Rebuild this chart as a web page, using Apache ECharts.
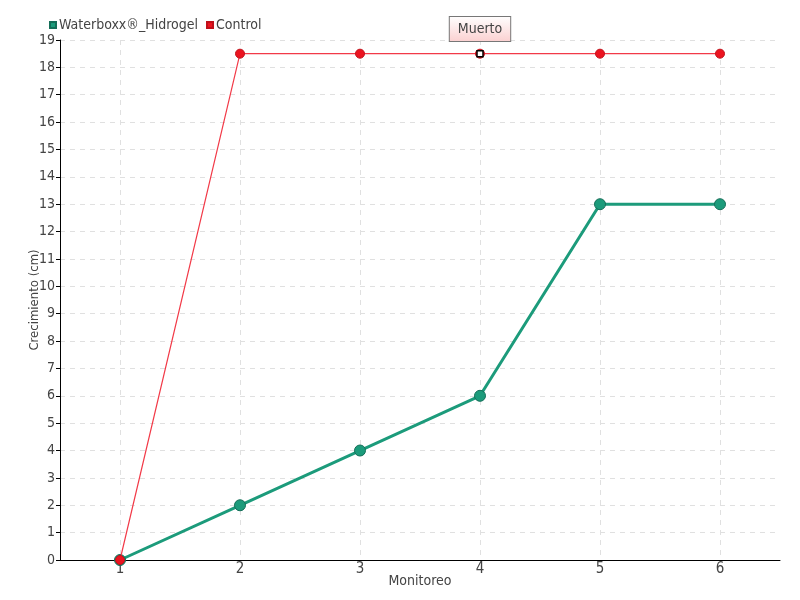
<!DOCTYPE html>
<html><head><meta charset="utf-8">
<script src="https://cdn.jsdelivr.net/npm/echarts@6/dist/echarts.min.js"></script>
<style>html,body{margin:0;padding:0;background:#fff}#c{width:800px;height:600px}</style>
</head><body><div id="c"></div>
<script>
const categories = ['1','2','3','4','5','6'];
const hidrogel = [0, 2, 4, 6, 13, 13];
const control = [0, 18.5, 18.5, 18.5, 18.5, 18.5];
const yTicks = {min: 0, max: 19, interval: 1};
const annotations = [{index: 3, text: 'Muerto'}];

const FONT = '"DejaVu Sans Condensed", "Liberation Sans Narrow", sans-serif';
const NUMFONT = '"Liberation Sans Narrow", "DejaVu Sans Condensed", sans-serif';
const chart = echarts.init(document.getElementById('c'), null, {renderer: 'canvas'});

const markData = annotations.map(a => ({
  coord: [categories[a.index], control[a.index]],
  value: a.text
}));

chart.setOption({
  animation: false,
  textStyle: {fontFamily: FONT},
  grid: {left: 60, right: 20, top: 40, bottom: 40, containLabel: false},
  legend: {
    left: 44, top: 13, itemWidth: 6, itemHeight: 6, itemGap: 8,
    icon: 'rect',
    textStyle: {fontFamily: FONT, fontSize: 14, color: '#444', padding: [0, 0, 0, -2]},
    data: ['Waterboxx®_Hidrogel', 'Control']
  },
  xAxis: {
    type: 'category', data: categories, boundaryGap: true,
    name: 'Monitoreo', nameLocation: 'middle', nameGap: 14, nameMoveOverlap: false,
    nameTextStyle: {fontFamily: FONT, fontSize: 14, color: '#444'},
    axisLine: {lineStyle: {color: '#000', width: 1}},
    axisTick: {alignWithLabel: true, length: 5, lineStyle: {color: '#000'}},
    axisLabel: {fontFamily: NUMFONT, fontSize: 15, color: '#444', margin: 2},
    splitLine: {show: true, alignWithLabel: true, lineStyle: {color: '#e0e0e0', type: [5, 5]}}
  },
  yAxis: {
    type: 'value', min: yTicks.min, max: yTicks.max, interval: yTicks.interval,
    name: 'Crecimiento (cm)', nameLocation: 'middle', nameGap: 19, nameMoveOverlap: false,
    nameTextStyle: {fontFamily: FONT, fontSize: 13, color: '#444'},
    axisLine: {show: true, lineStyle: {color: '#000', width: 1}},
    axisTick: {show: true, length: 4, lineStyle: {color: '#000'}},
    axisLabel: {fontFamily: NUMFONT, fontSize: 14, color: '#444', margin: 5},
    splitLine: {show: true, lineStyle: {color: '#e0e0e0', type: [5, 5]}}
  },
  series: [
    {
      name: 'Waterboxx®_Hidrogel', type: 'line', data: hidrogel,
      symbol: 'circle', symbolSize: 11,
      lineStyle: {color: '#1c9b7b', width: 3},
      itemStyle: {color: '#1c9b7b', borderColor: '#146e58', borderWidth: 1},
      z: 2
    },
    {
      name: 'Control', type: 'line', data: control,
      symbol: 'circle', symbolSize: 9,
      lineStyle: {color: '#f23a48', width: 1.2},
      itemStyle: {color: '#ec1420', borderColor: '#c0101a', borderWidth: 1},
      z: 3,
      markPoint: {
        symbol: 'rect', symbolSize: 6,
        itemStyle: {color: '#fff', borderColor: '#000', borderWidth: 1.5},
        label: {
          show: true, position: 'top', distance: 9, formatter: p => p.value,
          fontFamily: FONT, fontSize: 14, color: '#444',
          backgroundColor: {type: 'linear', x: 0, y: 0, x2: 0, y2: 1,
            colorStops: [{offset: 0, color: '#fff'}, {offset: 1, color: '#fbd0d0'}]},
          borderColor: '#777', borderWidth: 1, padding: [5, 8, 5, 8]
        },
        data: markData
      }
    }
  ]
});
</script></body></html>
